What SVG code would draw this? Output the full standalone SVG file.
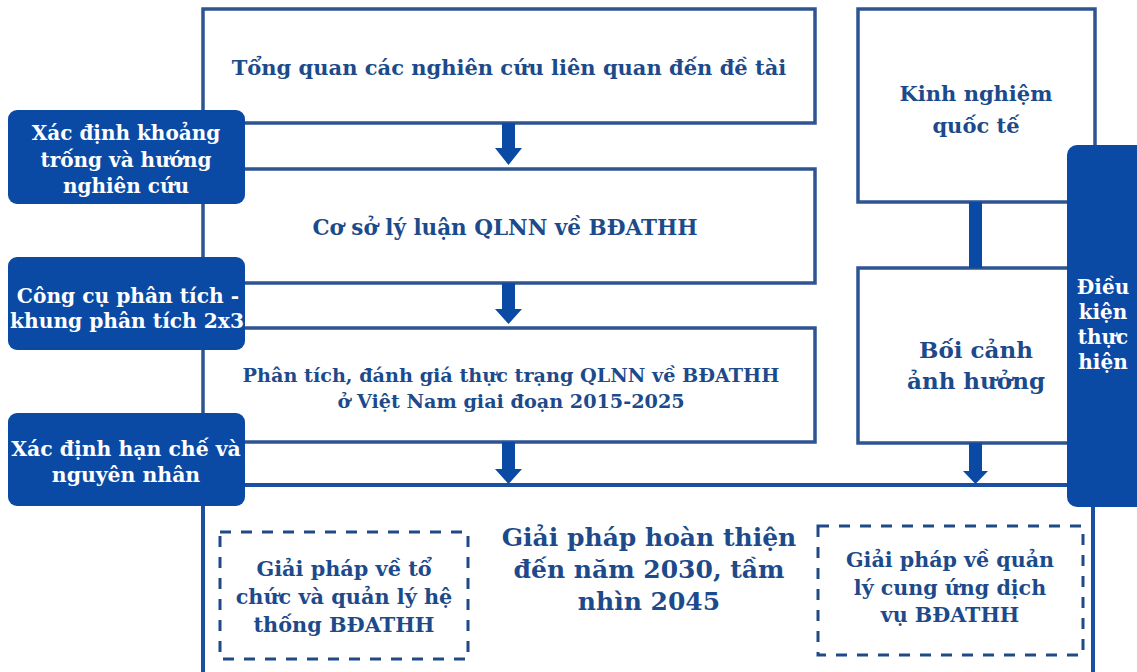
<svg xmlns="http://www.w3.org/2000/svg" width="1137" height="672" viewBox="0 0 1137 672">
<style>
.box{fill:#ffffff;stroke:#2e5491;stroke-width:3.5}
.big{fill:#ffffff;stroke:#1b50a0;stroke-width:4}
.dark{fill:#0a4aa5}
.dash{fill:none;stroke:#1f4a86;stroke-width:3;stroke-dasharray:11 10}
.t{font-family:"DejaVu Serif","Liberation Serif",serif;font-weight:bold;text-anchor:middle;fill:#1c4a8a}
.w{font-family:"DejaVu Serif","Liberation Serif",serif;font-weight:bold;text-anchor:middle;fill:#ffffff}
.arr{fill:#0a4aa5}
</style>
<rect width="1137" height="672" fill="#ffffff"/>
<g id="solutions">
<rect class="big" x="203" y="485" width="890" height="195"/>
<text class="t" font-size="25"><tspan x="649" y="546">Giải pháp hoàn thiện</tspan><tspan x="649" y="578">đến năm 2030, tầm</tspan><tspan x="649" y="610">nhìn 2045</tspan></text>
</g>
<g id="sol-left">
<rect class="dash" x="220" y="532" width="248" height="127"/>
<text class="t" font-size="20.8"><tspan x="344" y="576">Giải pháp về tổ</tspan><tspan x="344" y="604">chức và quản lý hệ</tspan><tspan x="344" y="632">thống BĐATHH</tspan></text>
</g>
<g id="sol-right">
<rect class="dash" x="818" y="526" width="265" height="129"/>
<text class="t" font-size="20.6"><tspan x="950" y="567">Giải pháp về quản</tspan><tspan x="950" y="595">lý cung ứng dịch</tspan><tspan x="950" y="622">vụ BĐATHH</tspan></text>
</g>
<g id="box-overview">
<rect class="box" x="203" y="9" width="612" height="114"/>
<text class="t" font-size="21" x="509" y="75">Tổng quan các nghiên cứu liên quan đến đề tài</text>
</g>
<g id="box-theory">
<rect class="box" x="203" y="169" width="612" height="114"/>
<text class="t" font-size="21.5" x="505" y="235">Cơ sở lý luận QLNN về BĐATHH</text>
</g>
<g id="box-analysis">
<rect class="box" x="203" y="328" width="612" height="114"/>
<text class="t" font-size="19.2"><tspan x="511" y="382">Phân tích, đánh giá thực trạng QLNN về BĐATHH</tspan><tspan x="511" y="408">ở Việt Nam giai đoạn 2015-2025</tspan></text>
</g>
<g id="box-intl">
<rect class="box" x="858" y="9" width="237" height="193"/>
<text class="t" font-size="21"><tspan x="976" y="101">Kinh nghiệm</tspan><tspan x="976" y="133">quốc tế</tspan></text>
</g>
<g id="box-context">
<rect class="box" x="858" y="268" width="237" height="175"/>
<text class="t" font-size="23"><tspan x="976" y="358">Bối cảnh</tspan><tspan x="976" y="389">ảnh hưởng</tspan></text>
</g>
<g id="connectors">
<rect class="arr" x="969" y="202" width="13" height="66"/>
<polygon class="arr" points="502,123 515,123 515,148 522,148 508.5,165 495,148 502,148"/>
<polygon class="arr" points="502,283 515,283 515,309 522,309 508.5,324 495,309 502,309"/>
<polygon class="arr" points="502,442 515,442 515,469 522,469 508.5,484 495,469 502,469"/>
<polygon class="arr" points="969,443 982,443 982,471 988,471 975.5,484 963,471 969,471"/>
</g>
<g id="gap">
<rect class="dark" x="8" y="110" width="237" height="94" rx="9"/>
<text class="w" font-size="20"><tspan x="126" y="140">Xác định khoảng</tspan><tspan x="126" y="167">trống và hướng</tspan><tspan x="126" y="193">nghiên cứu</tspan></text>
</g>
<g id="tools">
<rect class="dark" x="8" y="257" width="237" height="93" rx="9"/>
<text class="w" font-size="20.2"><tspan x="128" y="303">Công cụ phân tích -</tspan><tspan x="127" y="328">khung phân tích 2x3</tspan></text>
</g>
<g id="limits">
<rect class="dark" x="8" y="413" width="237" height="93" rx="9"/>
<text class="w" font-size="20.4"><tspan x="126" y="456">Xác định hạn chế và</tspan><tspan x="126" y="482">nguyên nhân</tspan></text>
</g>
<g id="conditions">
<rect class="dark" x="1067" y="145" width="80" height="362" rx="10"/>
<text class="w" font-size="20"><tspan x="1103" y="294">Điều</tspan><tspan x="1103" y="319">kiện</tspan><tspan x="1103" y="344">thực</tspan><tspan x="1103" y="369">hiện</tspan></text>
</g>
</svg>
